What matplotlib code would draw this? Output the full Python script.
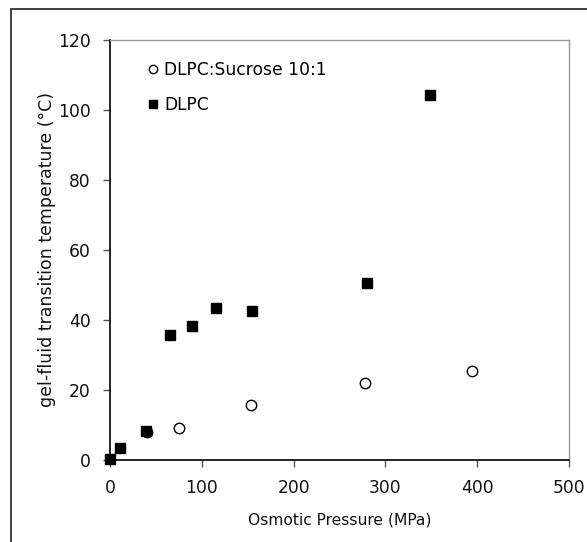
import matplotlib
matplotlib.use('Agg')
import matplotlib.pyplot as plt
from matplotlib.patches import Rectangle

# DLPC:Sucrose 10:1 (open circles)
sucrose_p = [40, 75, 154, 278, 394]
sucrose_t = [8.0, 9.2, 15.8, 22.0, 25.5]

# DLPC (filled squares)
dlpc_p = [0, 11, 39, 65, 89, 116, 155, 280, 349]
dlpc_t = [0.3, 3.3, 8.4, 35.8, 38.4, 43.5, 42.6, 50.5, 104.2]

plt.rcParams['font.family'] = ['DejaVu Sans']

fig = plt.figure(figsize=(5.87, 5.42), dpi=100)
ax = fig.add_axes([0.1874, 0.1513, 0.7819, 0.7749])

ax.plot(sucrose_p, sucrose_t, linestyle='none', marker='o', markersize=7.5,
        markerfacecolor='white', markeredgecolor='black', markeredgewidth=1.0,
        label='DLPC:Sucrose 10:1', clip_on=False, zorder=3)
ax.plot(dlpc_p, dlpc_t, linestyle='none', marker='s', markersize=7.5,
        markerfacecolor='black', markeredgecolor='black',
        label='DLPC', clip_on=False, zorder=4)

ax.set_xlim(0, 500)
ax.set_ylim(0, 120)
ax.set_xticks([0, 100, 200, 300, 400, 500])
ax.set_yticks([0, 20, 40, 60, 80, 100, 120])
ax.tick_params(direction='out', length=5, width=1, color='#555555',
               labelsize=12.3, pad=9, labelcolor='#111111')

for side in ['top', 'right']:
    ax.spines[side].set_color('#999999')
    ax.spines[side].set_linewidth(1)
for side in ['left', 'bottom']:
    ax.spines[side].set_color('black')
    ax.spines[side].set_linewidth(1.2)

ax.set_xlabel('Osmotic Pressure (MPa)', fontsize=11.2, labelpad=11, color='#111111')
ax.set_ylabel('gel-fluid transition temperature (°C)', fontsize=12.5, labelpad=1.5,
              color='#111111')

ax.legend(loc='upper left', frameon=False, fontsize=12.3, handletextpad=0.2,
          handlelength=0.9, borderaxespad=0.2, labelspacing=1.0, markerscale=0.8,
          bbox_to_anchor=(0.055, 0.975))

# outer chart border (only left and top edges fall inside the image)
fig.patches.append(Rectangle((11 / 587, -0.05), 1.1, 0.05 + 533 / 542,
                             transform=fig.transFigure, fill=False,
                             edgecolor='#333333', linewidth=1.3))

fig.savefig('out.png', dpi=100)
